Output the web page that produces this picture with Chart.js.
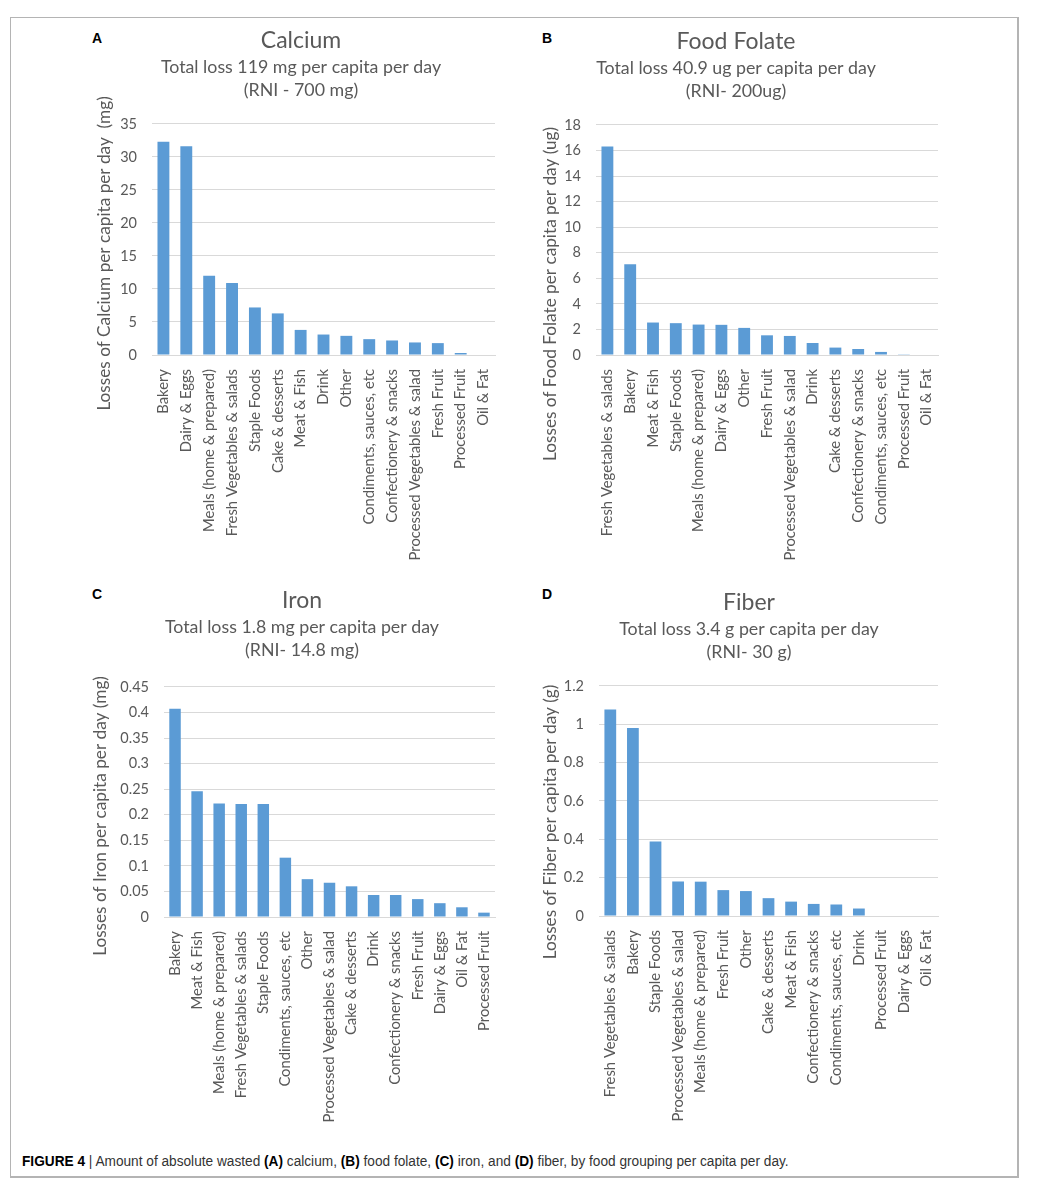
<!DOCTYPE html>
<html>
    <head>
        <meta charset="utf-8">
        <title>Figure 4 - wasted nutrients by food grouping</title>
        <script src="https://cdn.jsdelivr.net/npm/chart.js@4.4.1/dist/chart.umd.min.js" type="text/javascript"></script>
        <style>
            body { margin: 0; background: #fff; width: 1038px; height: 1190px; position: relative; overflow: hidden; }
            .frame { position: absolute; left: 10px; top: 17px; width: 1006px; height: 1158px; border: 1px solid #b4b4b4; border-right-width: 2px; border-bottom-width: 2px; }
            .panel { position: absolute; }
            .letter { position: absolute; font-family: "Liberation Sans", Arial, sans-serif; font-weight: bold; font-size: 14px; color: #000; }
            .caption { position: absolute; left: 22px; top: 1153px; font-family: "Liberation Sans", Arial, sans-serif; font-size: 14px; color: #333; white-space: nowrap; transform: scaleX(0.976); transform-origin: left top; }
            .caption b { color: #000; }
        </style>
    </head>

    <body>
        <div class="frame"></div>
        <div class="letter" style="left:92px; top:30px">A</div>
        <div class="letter" style="left:542px; top:30px">B</div>
        <div class="letter" style="left:92px; top:586px">C</div>
        <div class="letter" style="left:542px; top:586px">D</div>

        <div class="panel" style="left:84px; top:25px; width:434px; height:540px"><canvas id="calcium"></canvas></div>
        <div class="panel" style="left:530px; top:26px; width:412px; height:539px"><canvas id="folate"></canvas></div>
        <div class="panel" style="left:80px; top:585px; width:444px; height:545px"><canvas id="iron"></canvas></div>
        <div class="panel" style="left:530px; top:587px; width:438px; height:543px"><canvas id="fiber"></canvas></div>

        <div class="caption"><b>FIGURE 4</b> | Amount of absolute wasted <b>(A)</b> calcium, <b>(B)</b> food folate, <b>(C)</b> iron, and <b>(D)</b> fiber, by food grouping per capita per day.</div>
    </body>

    <script>
        // A - calcium (mg)
        const calciumLabels = ['Bakery', 'Dairy & Eggs', 'Meals (home & prepared)', 'Fresh Vegetables & salads', 'Staple Foods', 'Cake & desserts', 'Meat & Fish', 'Drink', 'Other', 'Condiments, sauces, etc', 'Confectionery & snacks', 'Processed Vegetables & salad', 'Fresh Fruit', 'Processed Fruit', 'Oil & Fat'];
        const calciumValues = [32.3, 31.6, 12.0, 10.9, 7.2, 6.3, 3.8, 3.1, 2.9, 2.4, 2.2, 1.9, 1.8, 0.3, 0];

        // B - food folate (ug)
        const folateLabels = ['Fresh Vegetables & salads', 'Bakery', 'Meat & Fish', 'Staple Foods', 'Meals (home & prepared)', 'Dairy & Eggs', 'Other', 'Fresh Fruit', 'Processed Vegetables & salad', 'Drink', 'Cake & desserts', 'Confectionery & snacks', 'Condiments, sauces, etc', 'Processed Fruit', 'Oil & Fat'];
        const folateValues = [16.3, 7.1, 2.54, 2.49, 2.38, 2.36, 2.12, 1.54, 1.49, 0.94, 0.58, 0.47, 0.24, 0.02, 0];

        // C - iron (mg)
        const ironLabels = ['Bakery', 'Meat & Fish', 'Meals (home & prepared)', 'Fresh Vegetables & salads', 'Staple Foods', 'Condiments, sauces, etc', 'Other', 'Processed Vegetables & salad', 'Cake & desserts', 'Drink', 'Confectionery & snacks', 'Fresh Fruit', 'Dairy & Eggs', 'Oil & Fat', 'Processed Fruit'];
        const ironValues = [0.407, 0.246, 0.222, 0.221, 0.221, 0.116, 0.074, 0.067, 0.060, 0.043, 0.043, 0.035, 0.027, 0.019, 0.0085];

        // D - fiber (g)
        const fiberLabels = ['Fresh Vegetables & salads', 'Bakery', 'Staple Foods', 'Processed Vegetables & salad', 'Meals (home & prepared)', 'Fresh Fruit', 'Other', 'Cake & desserts', 'Meat & Fish', 'Confectionery & snacks', 'Condiments, sauces, etc', 'Drink', 'Processed Fruit', 'Dairy & Eggs', 'Oil & Fat'];
        const fiberValues = [1.077, 0.981, 0.389, 0.180, 0.179, 0.135, 0.130, 0.093, 0.075, 0.063, 0.060, 0.039, 0, 0, 0];

        const grey = '#595959';
        const font = 'Lato, "Open Sans", sans-serif';

        // Excel puts the value-axis title a bit below the plot centre, so draw it ourselves
        const axisTitle = {
            id: 'axisTitle',
            afterDraw(chart, args, opts) {
                const ctx = chart.ctx;
                const a = chart.chartArea;
                ctx.save();
                ctx.translate(opts.x, (a.top + a.bottom) / 2 + opts.shift);
                ctx.rotate(-Math.PI / 2);
                ctx.font = opts.size + 'px ' + font;
                ctx.fillStyle = grey;
                ctx.textAlign = 'center';
                ctx.textBaseline = 'middle';
                ctx.fillText(opts.text, 0, 0);
                ctx.restore();
            }
        };

        // box = [left axis width, right gap, x label band height, gap under subtitle, title shift]
        function makeChart(id, labels, values, title, subtitle, yTitle, yMax, yStep, box) {
            return new Chart(document.getElementById(id), {
                type: 'bar',
                plugins: [axisTitle],
                data: {
                    labels: labels,
                    datasets: [{
                        data: values,
                        backgroundColor: '#5b9bd5',
                        barPercentage: 0.52,
                        categoryPercentage: 1
                    }]
                },
                options: {
                    responsive: true,
                    maintainAspectRatio: false,
                    animation: false,
                    layout: { padding: 0 },
                    plugins: {
                        legend: { display: false },
                        tooltip: { enabled: false },
                        title: {
                            display: true,
                            text: title,
                            color: grey,
                            font: { family: font, size: 23, weight: 'normal' },
                            padding: { top: 2, bottom: 1 }
                        },
                        subtitle: {
                            display: true,
                            text: subtitle,
                            color: grey,
                            font: { family: font, size: 17.8, weight: 'normal', lineHeight: 1.3 },
                            padding: { top: 0, bottom: box[3] }
                        },
                        axisTitle: { text: yTitle, x: 20, shift: box[4], size: 17.2 }
                    },
                    scales: {
                        x: {
                            grid: { display: false },
                            border: { color: '#d9d9d9' },
                            ticks: {
                                color: grey,
                                font: { family: font, size: 14.8 },
                                minRotation: 90,
                                maxRotation: 90,
                                autoSkip: false,
                                padding: 6
                            },
                            afterFit: s => {
                                s.height = box[2];
                                s.paddingLeft = 0;
                                s.paddingRight = 0;
                            }
                        },
                        y: {
                            min: 0,
                            max: yMax,
                            grid: { color: '#d9d9d9', drawTicks: false },
                            border: { display: false },
                            ticks: {
                                stepSize: yStep,
                                color: grey,
                                padding: 15,
                                font: { family: font, size: 14.5 },
                                callback: v => String(+v.toFixed(2))
                            },
                            afterFit: s => { s.width = box[0]; }
                        },
                        yRight: {
                            type: 'linear',
                            position: 'right',
                            grid: { display: false },
                            border: { display: false },
                            ticks: { display: false },
                            afterFit: s => { s.width = box[1]; }
                        }
                    }
                }
            });
        }

        document.addEventListener('DOMContentLoaded', () => {
            makeChart('calcium', calciumLabels, calciumValues, 'Calcium',
                ['Total loss 119 mg per capita per day', '(RNI - 700 mg)'],
                'Losses of Calcium per capita per day  (mg)', 35, 5, [68, 23, 210, 22, 14]);
            makeChart('folate', folateLabels, folateValues, 'Food Folate',
                ['Total loss 40.9 ug per capita per day', '(RNI- 200ug)'],
                'Losses of Food Folate per capita per day (ug)', 18, 2, [66, 4, 210, 22, 54]);
            makeChart('iron', ironLabels, ironValues, 'Iron',
                ['Total loss 1.8 mg per capita per day', '(RNI- 14.8 mg)'],
                'Losses of Iron per capita per day (mg)', 0.45, 0.05, [84, 29, 213, 25, 14]);
            makeChart('fiber', fiberLabels, fiberValues, 'Fiber',
                ['Total loss 3.4 g per capita per day', '(RNI- 30 g)'],
                'Losses of Fiber per capita per day (g)', 1.2, 0.2, [69, 30, 214, 22, 21]);
        });
    </script>
</html>
